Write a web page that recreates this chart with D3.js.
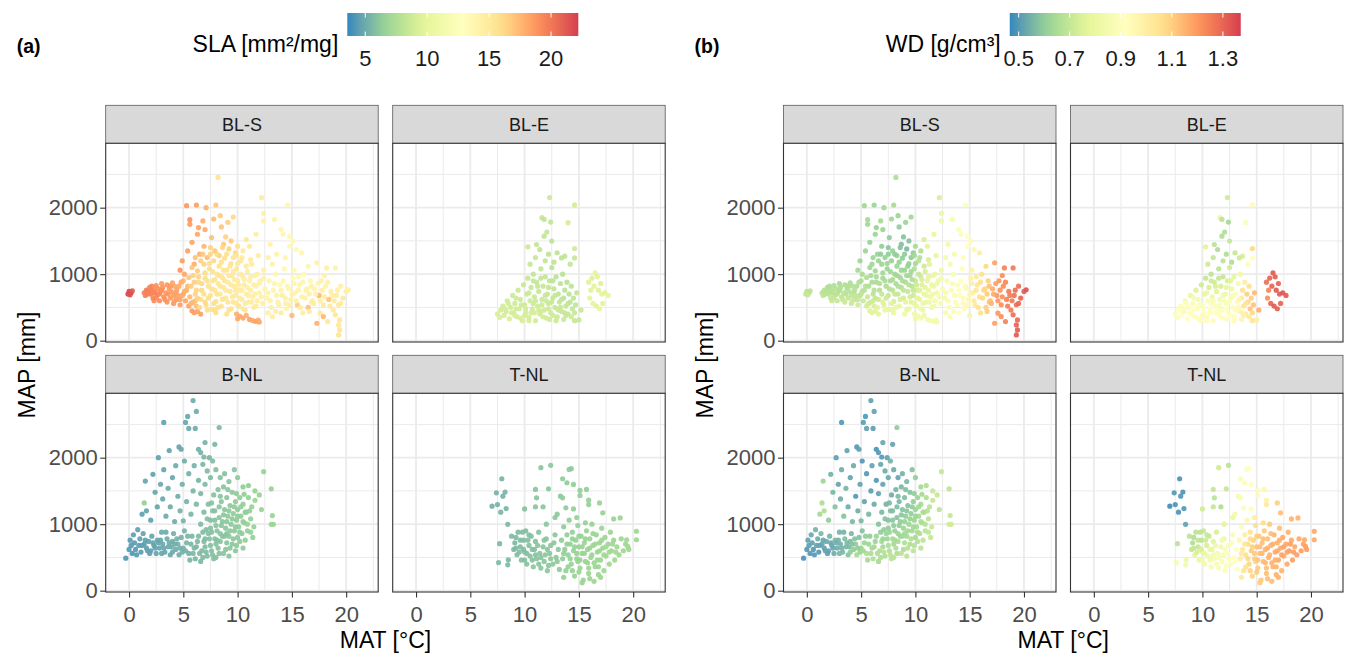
<!DOCTYPE html>
<html>
<head>
<meta charset="utf-8">
<script src="https://cdn.jsdelivr.net/npm/d3@7"></script>
<style>
  body { margin: 0; background: #fff; }
  text { font-family: "Liberation Sans", Arial, Helvetica, sans-serif; }
</style>
</head>
<body>
<svg id="chart" width="1347" height="654"></svg>
<script>
// ---- data: one row per site, [MAT °C, MAP mm, SLA mm²/mg, WD g/cm³] ----
const pfts = ["BL-S", "BL-E", "B-NL", "T-NL"];

const blsPoints = [
  [0.0,740,21.8,0.68],[0.2,720,21.5,0.67],[-0.1,700,21.9,0.69],[0.3,750,21.2,0.68],[0.1,690,21.6,0.7],
  [1.4,720,19.6,0.68],[1.6,760,19.8,0.67],[1.5,680,19.5,0.69],[1.9,800,19.4,0.66],[2.0,700,19.7,0.68],
  [2.2,640,19.3,0.7],[2.3,760,19.2,0.67],[2.5,830,19.0,0.66],[2.6,690,19.4,0.69],[2.8,600,19.1,0.7],
  [2.9,740,18.9,0.67],[3.1,800,18.8,0.66],[3.2,660,19.0,0.69],[3.4,720,18.7,0.68],[3.5,580,18.9,0.71],
  [1.8,740,19.7,0.68],[2.4,720,19.5,0.68],[3.0,860,18.6,0.65],[2.1,820,19.3,0.66],[2.7,780,19.1,0.67],
  [3.7,780,18.5,0.67],[3.8,640,18.6,0.7],[4.0,870,18.2,0.66],[4.1,560,18.7,0.71],[4.3,720,18.3,0.68],
  [4.4,620,18.4,0.7],[4.6,820,18.0,0.66],[4.7,540,18.5,0.72],[4.9,680,17.9,0.69],[5.0,900,17.6,0.65],
  [5.2,600,18.2,0.71],[5.3,760,17.7,0.68],[5.5,520,18.4,0.73],[5.6,660,17.5,0.7],[5.8,450,18.6,0.75],
  [6.0,420,18.5,0.76],[6.3,440,18.3,0.76],[6.6,400,18.4,0.77],[5.9,580,17.6,0.72],[6.2,520,17.4,0.74],
  [3.9,740,18.4,0.68],[4.5,680,18.3,0.69],[5.1,740,17.8,0.68],[4.2,820,18.1,0.67],
  [1.7,700,19.6,0.68],[2.0,760,19.5,0.67],[2.2,720,19.4,0.68],[2.5,650,19.3,0.69],[2.8,700,19.2,0.68],
  [3.0,760,19.0,0.67],[3.3,620,19.0,0.7],[3.6,700,18.8,0.68],[3.8,820,18.6,0.66],[4.1,680,18.5,0.69],
  [4.4,760,18.4,0.67],[4.7,620,18.3,0.7],[5.0,700,18.0,0.69],[5.4,820,17.6,0.67],[4.8,880,17.9,0.66],
  [3.5,840,18.7,0.66],[2.3,600,19.2,0.7],[4.2,600,18.5,0.71],[5.7,560,17.6,0.72],[6.1,600,17.2,0.72],
  [4.7,1060,18.8,0.64],[4.9,1200,18.6,0.62],[5.1,1000,18.2,0.65],[5.3,2030,18.7,0.63],[5.4,1350,18.4,0.62],
  [5.6,1750,18.6,0.63],[5.6,1820,18.9,0.64],[5.8,1480,18.3,0.61],[6.0,1150,17.9,0.63],[6.2,2040,18.5,0.62],
  [6.3,1600,18.1,0.62],[6.4,1700,18.3,0.61],[6.5,1300,17.8,0.62],[6.8,1800,17.9,0.64],[6.9,1420,17.6,0.6],
  [7.0,1670,18.0,0.62],[7.1,2000,17.8,0.63],[7.2,1250,17.3,0.61],
  [7.6,1550,17.2,0.6],[7.8,1830,17.4,0.63],[8.0,2040,17.0,0.64],[8.2,2455,15.5,0.66],[8.4,1880,16.8,0.62],
  [8.5,1710,17.1,0.6],[8.7,1450,16.9,0.57],[8.9,1560,16.6,0.58],[9.1,1780,16.7,0.62],[9.2,1380,16.5,0.56],
  [9.4,1500,16.8,0.58],[9.6,1860,16.2,0.63],[9.8,1320,16.3,0.6],[7.9,1350,17.0,0.61],[8.3,1280,16.7,0.61],
  [10.0,1420,16.0,0.64],
  [5.7,820,16.8,0.66],[5.9,980,16.6,0.64],[6.1,700,16.5,0.68],[6.3,1050,16.7,0.63],[6.4,880,16.2,0.65],
  [6.6,620,16.0,0.72],[6.7,760,16.3,0.67],[6.9,1150,16.4,0.62],[7.0,940,15.9,0.64],[7.1,540,16.1,0.76],
  [7.3,820,15.7,0.66],[7.4,1080,16.0,0.62],[7.5,680,15.6,0.7],[7.6,470,15.8,0.78],[7.7,900,15.5,0.64],
  [7.8,1200,16.2,0.61],[7.9,760,15.4,0.68],[8.0,590,15.7,0.74],[8.1,1000,15.6,0.63],[8.2,860,15.3,0.65],
  [8.3,1120,15.8,0.62],[8.4,700,15.2,0.7],[8.5,520,15.6,0.78],[8.6,950,15.4,0.63],[8.7,800,15.1,0.67],
  [8.8,1240,15.9,0.6],[8.9,640,15.3,0.73],[9.0,1060,15.5,0.62],[9.1,880,15.0,0.66],[9.2,460,15.7,0.8],
  [9.3,740,15.2,0.7],[9.4,1160,15.6,0.61],[9.5,980,15.1,0.64],[9.6,580,15.4,0.76],[9.7,820,14.9,0.68],
  [9.8,680,15.0,0.72],[9.9,1080,15.3,0.66],[10.0,900,14.8,0.7],[10.1,520,15.5,0.8],[10.2,760,14.9,0.74],
  [10.3,1200,15.2,0.68],[10.4,620,15.1,0.78],[10.5,960,14.7,0.72],[10.6,840,14.8,0.75],[10.7,460,15.3,0.82],
  [10.8,700,14.6,0.78],[10.9,1040,14.9,0.74],[11.0,580,14.8,0.8],[11.1,900,14.5,0.78],[11.2,760,14.6,0.8],
  [11.3,1150,14.8,0.76],[11.4,660,14.4,0.82],[11.5,500,14.9,0.84],[11.6,980,14.5,0.8],[11.7,820,14.3,0.82],
  [11.8,600,14.6,0.84],[11.9,1280,14.7,0.78],[12.0,720,14.2,0.84],[12.1,900,14.4,0.82],[12.3,560,14.5,0.86],
  [12.4,1060,14.3,0.82],[12.5,780,14.1,0.86],[6.8,1300,16.9,0.6],[7.2,460,16.0,0.78],[8.0,420,15.9,0.8],
  [9.0,400,15.8,0.82],[6.5,500,16.2,0.76],[7.5,1400,16.5,0.59],[9.6,1250,15.6,0.6],[10.5,1350,15.0,0.66],
  [5.8,1100,17.0,0.63],[6.0,880,16.7,0.65],[6.2,760,16.5,0.67],[6.4,960,16.5,0.64],[6.6,1200,16.6,0.62],
  [6.7,860,16.2,0.66],[6.9,700,16.0,0.7],[7.0,1020,16.1,0.63],[7.2,900,15.9,0.65],[7.3,640,16.0,0.72],
  [7.4,1160,16.1,0.62],[7.6,780,15.8,0.67],[7.7,1040,15.7,0.63],[7.8,560,15.9,0.76],[7.9,920,15.6,0.65],
  [8.1,1300,16.1,0.6],[8.1,700,15.6,0.7],[8.3,980,15.5,0.63],[8.4,820,15.4,0.66],[8.5,1180,15.7,0.61],
  [8.6,620,15.5,0.74],[8.7,1060,15.4,0.62],[8.8,900,15.3,0.65],[8.9,760,15.2,0.69],[9.0,1300,15.8,0.6],
  [9.1,580,15.4,0.77],[9.2,980,15.2,0.63],[9.3,1120,15.4,0.61],[9.4,840,15.0,0.67],[9.5,660,15.1,0.73],
  [9.6,1040,15.1,0.63],[9.7,920,14.9,0.66],[9.8,760,14.9,0.7],[9.9,560,15.2,0.78],[10.0,1160,15.2,0.64],
  [10.1,840,14.8,0.72],[10.2,640,14.9,0.77],[10.3,1000,14.8,0.7],[10.4,760,14.7,0.75],[10.6,920,14.6,0.74],
  [10.7,560,14.9,0.8],[10.8,1120,14.8,0.72],[10.9,800,14.6,0.77],[11.0,680,14.6,0.8],[11.2,960,14.5,0.77],
  [11.3,580,14.7,0.82],[11.5,840,14.4,0.8],[11.6,700,14.4,0.82],[11.8,1000,14.4,0.8],[12.0,860,14.3,0.83],
  [12.2,660,14.3,0.85],[12.4,940,14.2,0.84],[7.0,580,16.2,0.75],[8.2,500,15.8,0.79],[9.4,480,15.6,0.8],
  [10.5,480,15.2,0.82],[11.7,520,14.8,0.84],[6.3,640,16.6,0.7],[7.5,1300,16.4,0.6],[8.6,1400,16.3,0.58],
  [9.9,1280,15.3,0.63],[6.1,1250,17.2,0.62],[5.5,950,17.0,0.66],[7.9,460,16.0,0.8],[10.4,1250,15.1,0.67],
  [11.2,1220,14.8,0.74],
  [9.9,400,17.8,0.82],[10.2,370,18.0,0.83],[10.5,340,18.2,0.84],[10.8,380,17.9,0.83],[11.1,320,18.3,0.85],
  [11.4,300,18.1,0.85],[11.7,290,18.4,0.86],[12.0,280,18.2,0.86],[11.9,310,18.0,0.85],[10.0,330,18.1,0.83],
  [10.8,1520,15.2,0.74],[11.1,1420,15.0,0.76],[11.7,1600,14.6,0.78],[12.2,2150,14.8,0.74],[12.4,1915,14.4,0.8],
  [12.4,1800,14.2,0.82],[13.4,1824,14.0,0.86],[14.0,1673,13.8,0.9],[14.6,2040,13.9,0.9],[14.8,1572,13.7,0.92],
  [14.2,1600,13.8,0.9],[15.1,1497,13.6,0.94],[15.4,1370,13.5,0.96],[15.9,1320,13.8,1.0],[14.8,1420,13.6,0.92],
  [13.0,1450,14.2,0.84],[13.6,1300,14.0,0.86],[12.8,1250,14.3,0.84],[14.4,1250,13.9,0.9],[13.2,1150,14.1,0.86],
  [12.7,640,14.2,0.86],[12.9,900,14.0,0.86],[13.1,500,14.4,0.88],[13.3,760,13.9,0.88],[13.5,1000,13.8,0.88],
  [13.7,580,14.1,0.9],[13.9,840,13.7,0.9],[14.1,680,14.6,0.92],[14.3,1080,13.6,0.92],[14.5,480,14.0,0.94],
  [14.7,780,13.8,0.94],[14.9,620,14.3,0.96],[15.1,940,13.5,0.98],[15.3,720,14.1,1.0],[15.5,540,16.8,1.02],
  [15.7,840,13.9,1.04],[15.9,660,14.2,1.06],[16.1,1000,13.6,1.06],[16.3,760,14.4,1.08],[16.5,500,17.2,1.1],
  [16.7,900,13.8,1.1],[16.9,600,14.5,1.14],[17.1,780,14.0,1.16],[17.3,1170,14.2,1.18],[17.5,680,17.6,1.2],
  [17.7,900,14.3,1.2],[17.9,540,14.8,1.22],[18.1,820,14.1,1.22],[18.2,1094,14.4,1.24],[18.4,620,17.0,1.24],
  [18.6,740,14.6,1.26],[18.8,460,14.9,1.26],[19.0,1094,14.2,1.26],[19.1,680,14.7,1.27],[19.3,540,15.0,1.28],
  [19.5,820,14.5,1.28],[19.7,640,14.8,1.3],[20.0,740,14.6,1.31],[20.2,766,14.4,1.33],[16.5,1119,13.9,1.08],
  [13.2,360,14.6,0.88],[14.0,420,14.8,0.92],[15.0,380,17.4,0.98],[16.0,420,14.7,1.06],[17.3,262,17.8,1.18],
  [17.6,413,15.1,1.2],[17.9,363,17.5,1.22],[18.3,287,15.2,1.24],[19.0,388,15.3,1.28],[19.4,312,15.4,1.29],
  [19.3,237,15.2,1.3],[19.4,161,15.5,1.31],[19.3,86,15.6,1.32],[12.8,420,14.5,0.86],[15.6,960,13.7,1.02],
  [16.8,580,14.6,1.12],[18.0,980,14.3,1.22],[14.4,560,14.2,0.94],[15.2,1060,13.6,0.98],
  [12.8,720,14.1,0.86],[13.0,600,14.3,0.87],[13.4,860,13.9,0.88],[13.6,680,14.2,0.89],[13.8,540,14.4,0.9],
  [14.0,760,14.0,0.91],[14.2,900,13.8,0.92],[14.4,640,14.3,0.93],[14.6,820,13.9,0.94],[14.8,540,14.5,0.95],
  [15.0,700,14.2,0.97],[15.2,860,13.9,0.99],[15.4,600,14.4,1.01],[15.6,760,14.1,1.03],[15.8,500,14.6,1.05],
  [16.0,880,13.9,1.06],[16.2,640,14.3,1.08],[16.4,780,14.2,1.09],[16.6,700,14.5,1.11],[16.8,820,14.2,1.13],
  [17.0,560,14.7,1.15],[17.2,700,14.3,1.17],[17.4,860,14.1,1.18],[17.6,600,14.6,1.2],[17.8,760,14.4,1.21],
  [18.0,660,14.6,1.22],[18.3,880,14.2,1.23],[18.5,520,14.9,1.25],[18.7,680,14.5,1.25],[18.9,600,14.8,1.26],
  [19.2,760,14.4,1.28],[19.5,560,14.9,1.29],[13.5,440,14.6,0.89],[16.6,440,14.8,1.1]
];

const blePoints = [
  [7.5,400,9.2,0.9],[7.8,460,9.0,0.92],[7.7,350,9.3,0.9],[8.0,520,8.9,0.9],[8.1,380,9.1,0.92],
  [8.3,440,9.0,0.88],[8.4,600,8.8,0.86],[8.6,330,9.2,0.92],[8.7,500,8.9,0.9],[8.9,680,8.7,0.8],
  [9.0,420,9.0,0.92],[9.1,560,8.8,0.88],[9.3,360,9.1,0.94],[9.4,760,8.6,0.75],[9.5,480,8.9,0.9],
  [9.6,620,8.7,0.85],[9.8,300,9.2,0.93],[9.9,840,8.5,0.72],[10.0,540,8.8,0.9],[10.1,420,9.0,0.92],
  [10.2,700,8.6,0.78],[10.3,940,8.4,0.7],[10.4,350,9.1,0.94],[10.5,600,8.7,0.88],[10.6,800,8.5,0.74],
  [10.7,480,8.9,0.92],[10.8,1000,8.3,0.68],[10.9,660,8.6,0.82],[11.0,300,9.0,0.93],[11.1,880,8.4,0.72],
  [11.2,520,8.8,0.9],[11.3,740,8.5,0.76],[11.4,400,8.9,0.92],[11.5,1080,8.2,0.68],[11.6,620,8.6,0.86],
  [11.7,820,8.4,0.74],[11.8,460,8.8,0.9],[11.9,960,8.2,0.7],[12.0,340,9.0,0.92],[12.1,700,8.4,0.8],
  [12.2,560,8.6,0.88],[12.3,900,8.1,0.74],[12.4,420,8.7,0.9],[12.5,1100,8.0,0.72],[12.6,640,8.3,0.86],
  [12.7,780,8.2,0.82],[12.8,500,8.5,0.9],[12.9,960,8.0,0.78],[13.0,360,8.6,0.92],[13.1,700,8.1,0.9],
  [13.2,580,8.3,0.94],[13.3,860,8.0,0.86],[13.4,440,8.4,0.96],[13.5,1000,7.9,0.82],[13.6,640,8.1,1.02],
  [13.7,760,8.0,1.06],[13.8,520,8.3,1.04],[13.9,880,7.9,1.0],[14.0,400,8.4,1.02],[14.1,700,8.0,1.1],
  [14.2,580,8.2,1.08],[14.3,820,8.1,1.06],[14.4,480,8.3,1.12],[14.5,640,8.1,1.1],[14.6,300,8.4,1.04],
  [14.7,540,8.2,1.12],[14.8,720,8.3,1.14],[15.0,312,8.4,1.0],[15.2,460,8.5,1.16],[8.5,560,9.0,0.9],
  [9.2,480,9.0,0.92],[10.0,380,9.1,0.94],[10.8,560,8.8,0.9],[11.5,440,8.9,0.92],[12.0,600,8.6,0.88],
  [12.6,380,8.8,0.92],[13.3,500,8.5,0.94],[9.6,340,9.1,0.92],[10.9,420,9.0,0.92],[11.7,360,8.9,0.93],
  [12.9,300,8.7,0.94],[13.8,380,8.5,0.98],[14.3,360,8.6,1.02],
  [8.2,480,9.0,0.9],[8.8,420,9.0,0.91],[9.2,640,8.8,0.86],[9.7,540,8.8,0.9],[10.1,480,8.9,0.91],
  [10.4,720,8.6,0.8],[10.6,420,9.0,0.92],[11.0,600,8.7,0.88],[11.3,460,8.9,0.91],[11.6,540,8.7,0.9],
  [11.9,680,8.5,0.84],[12.2,480,8.7,0.91],[12.5,580,8.5,0.9],[12.8,680,8.3,0.88],[13.1,460,8.5,0.93],
  [13.4,620,8.3,0.96],[13.7,420,8.4,0.98],[14.0,560,8.3,1.04],[11.2,820,8.4,0.74],[12.2,800,8.3,0.78],
  [10.8,900,8.4,0.72],[12.6,900,8.1,0.76],[11.5,940,8.3,0.7],[9.1,380,9.1,0.92],[10.4,300,9.1,0.93],
  [12.3,320,8.8,0.93],[13.6,320,8.6,0.96],[14.6,420,8.4,1.08],
  [12.3,2152,8.6,0.72],[14.6,2041,9.0,0.94],[11.6,1850,8.4,0.8],[11.8,1824,8.3,0.68],[12.4,1784,8.2,0.64],
  [14.0,1774,9.1,0.9],[12.05,1633,8.3,0.66],[11.8,1572,8.2,0.66],[12.5,1497,8.0,0.7],[10.3,1411,8.6,0.76],
  [11.1,1446,8.3,0.68],[11.4,1371,8.2,0.66],[14.6,1386,8.8,1.08],[13.0,1320,8.1,0.7],[13.7,1270,8.2,0.74],
  [14.6,1245,8.4,0.92],[13.4,1245,8.1,0.72],[11.0,1250,8.4,0.7],[11.9,1200,8.2,0.68],[12.7,1180,8.1,0.66],
  [10.5,1150,8.5,0.72],[12.2,1300,8.1,0.66],[14.2,1150,8.3,0.9],
  [15.9,880,9.6,1.28],[16.2,940,9.5,1.3],[16.5,1018,9.8,1.32],[16.7,960,9.6,1.31],[16.4,820,9.7,1.3],
  [16.8,760,9.5,1.32],[17.1,700,9.8,1.31],[17.4,720,9.6,1.33],[17.7,680,9.9,1.32],[16.0,640,9.7,1.22],
  [16.3,560,9.8,1.3],[16.6,520,9.6,1.32],[16.9,480,9.9,1.31],[17.2,560,9.7,1.3],[16.1,760,9.6,1.24],
  [17.0,860,9.5,1.3]
];

const bnlPoints = [
  [-0.3,489,4.2,0.49],[0.0,620,4.3,0.5],[0.1,760,4.4,0.52],[0.2,680,4.3,0.51],[0.3,560,4.2,0.5],
  [0.4,840,4.5,0.53],[0.5,720,4.4,0.52],[0.6,620,4.3,0.5],[0.8,917,4.6,0.55],[0.9,680,4.5,0.52],
  [1.0,780,4.6,0.54],[1.1,580,4.4,0.5],[1.3,860,4.7,0.56],[1.4,700,4.6,0.53],[0.7,540,4.3,0.5],
  [1.6,640,4.6,0.52],[1.8,740,4.7,0.54],[2.0,600,4.6,0.52],[2.1,820,4.8,0.55],[2.3,680,4.7,0.53],
  [2.5,560,4.7,0.54],[2.6,760,4.9,0.56],[2.8,640,4.8,0.54],[3.0,880,5.0,0.55],[3.1,700,4.9,0.55],
  [3.3,580,4.8,0.56],[3.5,780,5.0,0.57],[3.6,660,5.0,0.56],[3.8,540,4.9,0.58],[4.0,740,5.1,0.57],
  [4.1,860,5.2,0.56],[4.3,620,5.1,0.6],[4.5,700,5.2,0.6],[4.6,540,5.1,0.64],[4.8,800,5.3,0.58],
  [5.0,640,5.3,0.62],[5.1,900,5.4,0.58],[5.3,720,5.4,0.62],[5.5,560,5.3,0.66],[5.6,460,5.4,0.64],
  [5.8,820,5.5,0.6],[6.0,640,5.5,0.64],[6.1,480,5.4,0.66],[6.3,740,5.6,0.62],[6.5,560,5.6,0.66],
  [6.6,440,5.5,0.64],[6.8,880,5.7,0.6],[7.0,660,5.7,0.64],[7.2,520,5.7,0.66],[7.4,780,5.8,0.62],
  [7.6,600,5.8,0.66],[7.8,480,5.8,0.68],[8.0,700,5.9,0.64],[8.3,560,5.9,0.66],[8.6,820,6.0,0.62],
  [8.9,620,6.0,0.66],[9.2,520,6.0,0.68],[9.5,700,6.1,0.66],[9.8,600,6.1,0.68],[10.0,800,6.2,0.64],
  [1.9,560,4.6,0.51],[3.9,660,5.0,0.56],[4.9,580,5.2,0.62],[2.7,720,4.8,0.54],[3.4,880,5.0,0.55],
  [1.2,680,4.5,0.52],[1.5,760,4.6,0.53],[1.7,600,4.6,0.52],[2.2,720,4.7,0.53],[2.4,640,4.7,0.53],
  [2.9,760,4.8,0.55],[3.2,640,4.9,0.55],[3.7,720,5.0,0.56],[4.2,700,5.1,0.58],[4.4,780,5.2,0.58],
  [4.7,640,5.2,0.6],[5.2,600,5.3,0.63],[5.4,820,5.4,0.6],[5.7,700,5.4,0.62],[5.9,560,5.5,0.65],
  [6.2,660,5.5,0.64],[6.4,820,5.6,0.62],[6.7,600,5.6,0.66],[6.9,740,5.7,0.64],[7.1,580,5.7,0.67],
  [7.3,860,5.8,0.62],[7.5,680,5.8,0.65],[7.7,540,5.8,0.68],[7.9,780,5.9,0.64],[8.2,640,5.9,0.66],
  [8.4,740,6.0,0.65],[8.7,560,6.0,0.68],[9.0,860,6.0,0.64],[9.3,640,6.1,0.67],[9.6,780,6.1,0.66],
  [9.9,680,6.2,0.67],[10.2,740,6.3,0.67],[10.5,640,6.3,0.68],[3.0,560,4.8,0.56],[4.0,580,5.0,0.6],
  [6.8,500,5.6,0.66],[8.0,500,5.9,0.68],
  [6.6,1000,5.6,0.58],[6.9,1180,5.7,0.56],[7.1,920,5.7,0.6],[7.3,1300,5.8,0.55],[7.5,1060,5.8,0.58],
  [7.6,880,5.9,0.62],[7.8,1440,5.9,0.54],[7.9,1200,5.9,0.57],[8.0,980,6.0,0.6],[8.2,1520,5.9,0.55],
  [8.3,1100,6.0,0.58],[8.4,860,6.0,0.62],[8.5,1340,6.1,0.56],[8.6,1040,6.0,0.6],[8.7,1560,6.0,0.56],
  [8.8,1220,6.1,0.58],[8.9,940,6.1,0.62],[9.0,1400,6.1,0.57],[9.1,1120,6.2,0.6],[9.2,820,6.1,0.64],
  [9.3,1280,6.2,0.58],[9.4,1000,6.2,0.62],[9.5,1480,6.2,0.58],[9.6,1160,6.3,0.6],[9.7,900,6.2,0.64],
  [9.8,1340,6.3,0.6],[9.9,1060,6.3,0.62],[10.0,1220,6.3,0.62],[10.1,960,6.3,0.64],[10.2,1400,6.4,0.62],
  [10.3,1120,6.4,0.64],[10.4,860,6.3,0.66],[10.5,1300,6.4,0.64],[10.6,1020,6.4,0.66],[10.8,1180,6.5,0.66],
  [10.9,900,6.4,0.68],[11.0,1400,6.5,0.66],[11.2,1080,6.5,0.68],[11.3,1260,6.6,0.68],[11.5,960,6.5,0.7],
  [11.6,1360,6.7,0.7],[11.4,800,6.5,0.7],[10.7,760,6.4,0.68],[7.0,780,5.7,0.62],[8.1,760,5.9,0.64],
  [9.0,720,6.0,0.66],
  [7.2,1080,5.8,0.58],[7.5,940,5.8,0.6],[7.7,1200,5.9,0.57],[7.9,1060,5.9,0.59],[8.1,900,6.0,0.61],
  [8.3,1260,6.0,0.57],[8.5,980,6.0,0.6],[8.7,1140,6.1,0.59],[8.8,820,6.0,0.63],[9.0,1040,6.1,0.61],
  [9.2,1200,6.2,0.59],[9.3,900,6.2,0.63],[9.5,1080,6.2,0.61],[9.7,1260,6.3,0.6],[9.8,960,6.2,0.63],
  [10.0,1120,6.3,0.62],[10.2,880,6.3,0.65],[10.3,1260,6.4,0.63],[10.5,1040,6.4,0.65],[10.7,1180,6.4,0.65],
  [10.9,1000,6.5,0.67],[11.1,1200,6.5,0.67],[11.2,880,6.5,0.69],[8.4,1420,6.0,0.56],[9.1,1520,6.1,0.57],
  [9.9,1460,6.3,0.6],[10.6,1450,6.4,0.64],[7.6,1320,5.9,0.56],
  [5.9,2858,5.0,0.52],[6.2,2696,5.1,0.52],[5.4,2620,4.9,0.5],[3.2,2530,4.6,0.5],[5.2,2530,4.9,0.51],
  [5.5,2440,5.0,0.52],[6.1,2440,5.1,0.51],[8.3,2454,5.6,0.6],[7.0,2228,5.3,0.53],[3.7,2107,4.7,0.52],
  [4.6,2162,4.8,0.5],[4.8,2127,4.9,0.51],[2.7,2000,4.6,0.51],[6.4,2127,5.2,0.49],[6.6,2077,5.3,0.5],
  [7.4,2000,5.4,0.52],[12.4,1789,6.6,0.7],[13.1,1532,6.6,0.68],[13.2,1129,6.7,0.7],[13.3,998,6.8,0.72],
  [13.1,998,6.7,0.72],[1.4,1320,6.4,0.66],[1.5,1648,4.8,0.62],[2.2,1749,4.7,0.55],[1.2,1150,4.6,0.64],
  [1.6,1200,4.7,0.66],[2.0,1060,4.6,0.6],[2.4,1480,4.8,0.56],[2.6,1260,4.8,0.58],[2.9,1600,4.9,0.52],
  [3.1,1380,4.9,0.54],[3.2,1820,4.8,0.54],[3.4,1120,5.0,0.58],[3.6,1540,5.0,0.55],[3.8,1260,5.1,0.54],
  [4.0,1700,4.9,0.52],[4.2,1040,5.1,0.56],[4.3,1880,5.0,0.54],[4.5,1420,5.1,0.5],[4.7,1200,5.2,0.54],
  [4.9,1600,5.2,0.52],[5.0,1050,5.3,0.56],[5.1,1950,5.1,0.5],[5.3,1340,5.3,0.52],[5.5,1760,5.2,0.5],
  [5.7,1150,5.4,0.56],[5.9,1500,5.4,0.51],[6.0,1880,5.3,0.52],[6.2,1300,5.5,0.54],[6.4,1660,5.4,0.5],
  [6.6,1460,5.5,0.52],[6.8,1900,5.5,0.53],[7.0,1600,5.6,0.52],[7.2,1800,5.6,0.54],[7.5,1700,5.7,0.53],
  [7.7,1950,5.7,0.55],[8.0,1820,5.8,0.54],[8.4,1700,5.9,0.52],[8.8,1760,5.9,0.55],[9.2,1640,6.0,0.56],
  [9.7,1820,6.1,0.58],[10.0,1700,6.2,0.6],[10.5,1560,6.3,0.64],[11.0,1580,6.4,0.66],[11.6,1500,6.6,0.7],
  [12.2,1220,6.7,0.68],[12.0,1440,6.6,0.7],[7.9,2200,5.5,0.52],[6.9,2010,5.4,0.5]
];

const tnlPoints = [
  [7.9,1683,5.3,0.49],[7.4,1472,5.3,0.5],[8.2,1482,5.4,0.49],[8.0,1421,5.3,0.5],[7.0,1270,5.2,0.48],
  [7.5,1295,5.3,0.49],[8.3,1235,5.4,0.5],[7.8,1180,5.4,0.49],[8.45,998,5.5,0.52],[7.7,706,5.5,0.68],
  [7.6,423,5.6,0.86],[8.45,388,5.6,0.84],[8.5,464,5.5,0.82],
  [8.8,820,5.6,0.68],[9.0,620,5.6,0.7],[9.1,720,5.5,0.66],[9.3,540,5.7,0.76],[9.4,880,5.6,0.68],
  [9.6,660,5.7,0.7],[9.7,460,5.8,0.8],[9.9,760,5.7,0.68],[10.0,580,5.8,0.78],[10.1,900,5.7,0.7],
  [10.2,400,5.9,0.84],[10.4,680,5.8,0.74],[10.5,520,5.9,0.82],[10.6,820,5.8,0.7],[10.8,360,6.0,0.86],
  [10.9,620,5.9,0.8],[11.0,740,5.9,0.76],[11.1,480,6.0,0.86],[11.3,880,5.9,0.74],[11.4,560,6.0,0.86],
  [11.5,340,6.1,0.88],[11.7,660,6.0,0.84],[11.8,440,6.1,0.88],[12.0,780,6.0,0.82],[12.1,300,6.1,0.9],
  [12.3,560,6.1,0.9],[12.4,680,6.1,0.88],[12.6,400,6.2,0.9],[12.8,840,6.1,0.88],[12.9,500,6.2,0.92],
  [13.1,620,6.2,0.92],[13.2,320,6.3,0.92],[9.5,580,5.7,0.74],[10.7,460,5.9,0.84],[11.9,540,6.1,0.88],
  [9.2,800,5.6,0.66],[10.3,760,5.8,0.72],
  [9.2,640,5.6,0.7],[9.6,760,5.7,0.69],[9.9,620,5.7,0.74],[10.2,560,5.8,0.8],[10.4,840,5.8,0.7],
  [10.7,620,5.9,0.8],[11.0,540,5.9,0.85],[11.2,680,6.0,0.82],[11.5,500,6.0,0.87],[11.8,760,6.0,0.84],
  [12.1,620,6.1,0.88],[12.4,480,6.1,0.9],[12.7,720,6.1,0.9],[13.0,440,6.2,0.92],[10.0,460,5.8,0.84],
  [11.3,400,6.0,0.88],[12.2,380,6.1,0.9],[9.8,880,5.7,0.68],
  [13.4,760,6.3,0.96],[13.5,480,6.4,1.0],[13.6,960,6.3,0.94],[13.7,620,6.4,1.02],[13.8,300,6.5,1.04],
  [13.9,840,6.4,1.0],[14.0,540,6.5,1.06],[14.1,1060,6.4,0.96],[14.2,700,6.5,1.07],[14.3,400,6.6,1.09],
  [14.4,880,6.5,1.05],[14.5,600,6.6,1.11],[14.6,220,6.6,1.09],[14.7,760,6.5,1.09],[14.8,480,6.6,1.11],
  [14.9,980,6.5,1.07],[15.0,660,6.6,1.13],[15.1,340,6.7,1.11],[15.2,820,6.6,1.11],[15.3,560,6.7,1.13],
  [15.4,160,6.7,1.11],[15.5,720,6.7,1.13],[15.6,440,6.7,1.13],[15.7,900,6.6,1.11],[15.8,620,6.7,1.15],
  [15.9,260,6.8,1.13],[16.0,780,6.7,1.13],[16.1,500,6.8,1.15],[16.2,1000,6.6,1.11],[16.3,680,6.8,1.15],
  [16.4,140,6.8,1.13],[16.5,360,6.8,1.15],[16.6,840,6.7,1.15],[16.7,580,6.8,1.17],[16.8,240,6.8,1.15],
  [16.9,720,6.8,1.15],[17.0,460,6.9,1.17],[17.1,940,6.7,1.13],[17.2,640,6.8,1.17],[17.3,300,6.9,1.15],
  [17.4,800,6.8,1.17],[17.5,520,6.9,1.17],[17.7,700,6.8,1.17],[17.8,400,6.9,1.17],[17.9,880,6.8,1.15],
  [18.0,600,6.9,1.19],[18.2,760,6.8,1.17],[18.3,460,6.9,1.19],[18.5,660,6.9,1.17],[18.7,540,6.9,1.19],
  [18.9,780,6.8,1.17],[19.1,600,6.9,1.19],[19.3,700,6.9,1.18],[19.6,620,6.9,1.19],[15.3,120,6.7,1.11],
  [16.0,180,6.8,1.13],[17.0,200,6.8,1.15],[14.9,440,6.6,1.09],[16.4,420,6.8,1.15],[15.6,1020,6.5,1.07],
  [14.0,360,6.5,1.06],[13.6,200,6.5,1.02],
  [13.6,560,6.4,1.02],[13.9,700,6.4,1.04],[14.2,480,6.5,1.08],[14.4,780,6.5,1.07],[14.6,660,6.5,1.1],
  [14.8,560,6.6,1.11],[15.0,820,6.6,1.1],[15.1,460,6.6,1.12],[15.3,660,6.7,1.13],[15.5,560,6.7,1.14],
  [15.6,780,6.6,1.13],[15.8,420,6.7,1.14],[16.0,640,6.7,1.15],[16.2,540,6.8,1.15],[16.3,860,6.7,1.13],
  [16.5,700,6.8,1.16],[16.7,460,6.8,1.16],[16.9,600,6.8,1.17],[17.1,760,6.8,1.16],[17.3,540,6.9,1.18],
  [17.5,660,6.9,1.18],[17.8,580,6.9,1.18],[18.1,700,6.9,1.19],[18.4,580,6.9,1.19],[15.9,340,6.8,1.13],
  [16.8,360,6.8,1.15],[15.0,280,6.7,1.11],[14.4,300,6.6,1.09],
  [11.5,1850,6.1,0.72],[12.4,1885,6.2,0.68],[14.1,1824,6.3,0.9],[14.3,1835,6.3,0.92],[13.5,1683,6.3,0.88],
  [13.9,1623,6.3,0.9],[14.5,1598,6.4,0.92],[12.2,1532,6.1,0.7],[11.0,1522,6.0,0.7],[15.1,1507,6.4,0.94],
  [15.7,1522,6.4,0.96],[15.1,1431,6.4,0.94],[13.3,1421,6.2,0.86],[13.5,1396,6.3,0.88],[15.9,1361,6.5,0.98],
  [11.1,1396,6.0,0.68],[11.7,1260,6.1,0.66],[11.0,1260,6.0,0.7],[10.0,1230,5.8,0.72],[13.8,1245,6.3,0.9],
  [14.5,1230,6.4,0.92],[16.9,1320,6.6,1.1],[15.9,1295,6.5,1.02],[17.2,1170,6.6,1.13],[18.2,1079,6.7,1.15],
  [18.8,1094,6.7,1.15],[20.3,892,6.9,1.17],[20.3,766,6.9,1.17],[19.5,665,6.9,1.19],[19.4,766,6.9,1.17],
  [12.8,1100,6.2,0.8],[12.0,1000,6.1,0.76],[13.0,1150,6.2,0.84],[14.8,1100,6.5,1.0]
];

const pftPoints = {"BL-S": blsPoints, "BL-E": blePoints, "B-NL": bnlPoints, "T-NL": tnlPoints};

const matDomain = [-2.15, 22.95];
const mapDomain = [-20, 2968];
const matTicks = [0, 5, 10, 15, 20];
const matMinor = [2.5, 7.5, 12.5, 17.5, 22.5];
const mapTicks = [0, 1000, 2000];
const mapMinor = [500, 1500, 2500];
const slaDomain = [3.55, 22.2];
const slaTicks = [5, 10, 15, 20];
const wdDomain = [0.465, 1.37];
const wdTicks = [0.5, 0.7, 0.9, 1.1, 1.3];
const spectral = ["#3288BD", "#99D594", "#E6F598", "#FFFFBF", "#FEE08B", "#FC8D59", "#D53E4F"];

// ---- layout ----
const svg = d3.select("#chart");
const defs = svg.append("defs");
const panelW = 272.5, panelH = 198.7, stripH = 38, gapX = 14.5;
const panelTop = [143.3, 393.3];
const barW = 231, barTop = 13, barH = 23;

const figures = [
    {tag: "(a)", title: "SLA [mm²/mg]", col: 2, domain: slaDomain, ticks: slaTicks, fmt: d3.format("d"), left: 105.7},
    {tag: "(b)", title: "WD [g/cm³]", col: 3, domain: wdDomain, ticks: wdTicks, fmt: d3.format(".1f"), left: 783.5}
];

const x = d3.scaleLinear().domain(matDomain).range([0, panelW]);
const y = d3.scaleLinear().domain(mapDomain).range([panelH, 0]);

defs.append("clipPath").attr("id", "panelClip")
    .append("rect").attr("width", panelW).attr("height", panelH);

figures.forEach((fig, fi) => {
    const stops = spectral.map((c, i) => fig.domain[0] + i * (fig.domain[1] - fig.domain[0]) / (spectral.length - 1));
    const color = d3.scaleLinear().domain(stops).range(spectral).interpolate(d3.interpolateLab);

    pfts.forEach((name, i) => {
        const col = i % 2, row = Math.floor(i / 2);
        const g = svg.append("g")
            .attr("transform", `translate(${fig.left + col * (panelW + gapX)},${panelTop[row]})`);

        // strip
        g.append("rect")
            .attr("y", -stripH).attr("width", panelW).attr("height", stripH)
            .attr("fill", "#D9D9D9").attr("stroke", "#595959").attr("stroke-width", 0.8);
        g.append("text")
            .attr("x", panelW / 2).attr("y", -stripH / 2).attr("dy", "0.36em")
            .attr("text-anchor", "middle").attr("font-size", 18).attr("fill", "#1A1A1A")
            .text(name);

        g.append("rect").attr("width", panelW).attr("height", panelH).attr("fill", "#fff");

        // grid
        const grid = g.append("g").attr("stroke", "#EBEBEB");
        grid.selectAll(".vmin").data(matMinor).enter().append("line")
            .attr("x1", d => x(d)).attr("x2", d => x(d)).attr("y1", 0).attr("y2", panelH).attr("stroke-width", 1);
        grid.selectAll(".hmin").data(mapMinor).enter().append("line")
            .attr("x1", 0).attr("x2", panelW).attr("y1", d => y(d)).attr("y2", d => y(d)).attr("stroke-width", 1);
        grid.selectAll(".vmaj").data(matTicks).enter().append("line")
            .attr("x1", d => x(d)).attr("x2", d => x(d)).attr("y1", 0).attr("y2", panelH).attr("stroke-width", 1.8);
        grid.selectAll(".hmaj").data(mapTicks).enter().append("line")
            .attr("x1", 0).attr("x2", panelW).attr("y1", d => y(d)).attr("y2", d => y(d)).attr("stroke-width", 1.8);

        // points
        g.append("g").attr("clip-path", "url(#panelClip)")
            .selectAll("circle")
            .data(pftPoints[name])
            .enter()
            .append("circle")
            .attr("cx", d => x(d[0]))
            .attr("cy", d => y(d[1]))
            .attr("r", 2.6)
            .attr("fill", d => color(d[fig.col]))
            .attr("fill-opacity", 0.92);

        g.append("rect").attr("width", panelW).attr("height", panelH)
            .attr("fill", "none").attr("stroke", "#333333").attr("stroke-width", 1.1);

        if (col === 0) {
            g.append("g")
                .call(d3.axisLeft(y).tickValues(mapTicks).tickFormat(d3.format("d")).tickSize(5.5).tickPadding(2.5))
                .call(a => a.select(".domain").remove())
                .call(a => a.selectAll("line").attr("stroke", "#333333").attr("stroke-width", 1.1))
                .call(a => a.selectAll("text").attr("font-size", 22).attr("fill", "#4D4D4D")
                    .attr("font-family", null));
        }
        if (row === 1) {
            g.append("g").attr("transform", `translate(0,${panelH})`)
                .call(d3.axisBottom(x).tickValues(matTicks).tickFormat(d3.format("d")).tickSize(5.5))
                .call(a => a.select(".domain").remove())
                .call(a => a.selectAll("line").attr("stroke", "#333333").attr("stroke-width", 1.1))
                .call(a => a.selectAll("text").attr("font-size", 22).attr("fill", "#4D4D4D")
                    .attr("font-family", null).attr("dy", null).attr("y", 30));
        }
    });

    const center = fig.left + panelW + gapX / 2;

    // axis titles
    svg.append("text")
        .attr("x", center).attr("y", 648)
        .attr("text-anchor", "middle").attr("font-size", 23).attr("fill", "#000")
        .text("MAT [°C]");
    svg.append("text")
        .attr("transform", `translate(${fig.left - 71},365) rotate(-90)`)
        .attr("text-anchor", "middle").attr("font-size", 23).attr("fill", "#000")
        .text("MAP [mm]");

    // panel tag
    svg.append("text")
        .attr("x", fig.left - 89).attr("y", 53)
        .attr("font-size", 19.5).attr("font-weight", "bold").attr("fill", "#000")
        .text(fig.tag);

    // colour bar legend
    const title = svg.append("text")
        .attr("y", 52).attr("font-size", 23).attr("fill", "#000")
        .text(fig.title);
    const tw = title.node().getComputedTextLength();
    const start = center - (tw + 9 + barW) / 2;
    title.attr("x", start);
    const barX = start + tw + 9;

    const grad = defs.append("linearGradient").attr("id", "grad" + fi)
        .attr("x1", "0%").attr("x2", "100%").attr("y1", "0%").attr("y2", "0%");
    const lscale = d3.scaleLinear().domain(fig.domain).range([barX, barX + barW]);
    d3.range(0, 1.0001, 0.05).forEach(t => {
        grad.append("stop").attr("offset", (t * 100) + "%")
            .attr("stop-color", color(fig.domain[0] + t * (fig.domain[1] - fig.domain[0])));
    });
    svg.append("rect")
        .attr("x", barX).attr("y", barTop).attr("width", barW).attr("height", barH)
        .attr("fill", `url(#grad${fi})`);
    const lt = svg.append("g");
    lt.selectAll(".tt").data(fig.ticks).enter().append("line")
        .attr("x1", d => lscale(d)).attr("x2", d => lscale(d))
        .attr("y1", barTop).attr("y2", barTop + 4.5)
        .attr("stroke", "#fff").attr("stroke-width", 1);
    lt.selectAll(".tb").data(fig.ticks).enter().append("line")
        .attr("x1", d => lscale(d)).attr("x2", d => lscale(d))
        .attr("y1", barTop + barH - 4.5).attr("y2", barTop + barH)
        .attr("stroke", "#fff").attr("stroke-width", 1);
    lt.selectAll("text").data(fig.ticks).enter().append("text")
        .attr("x", d => lscale(d)).attr("y", 66)
        .attr("text-anchor", "middle").attr("font-size", 22).attr("fill", "#1A1A1A")
        .text(d => fig.fmt(d));
});
</script>
</body>
</html>
